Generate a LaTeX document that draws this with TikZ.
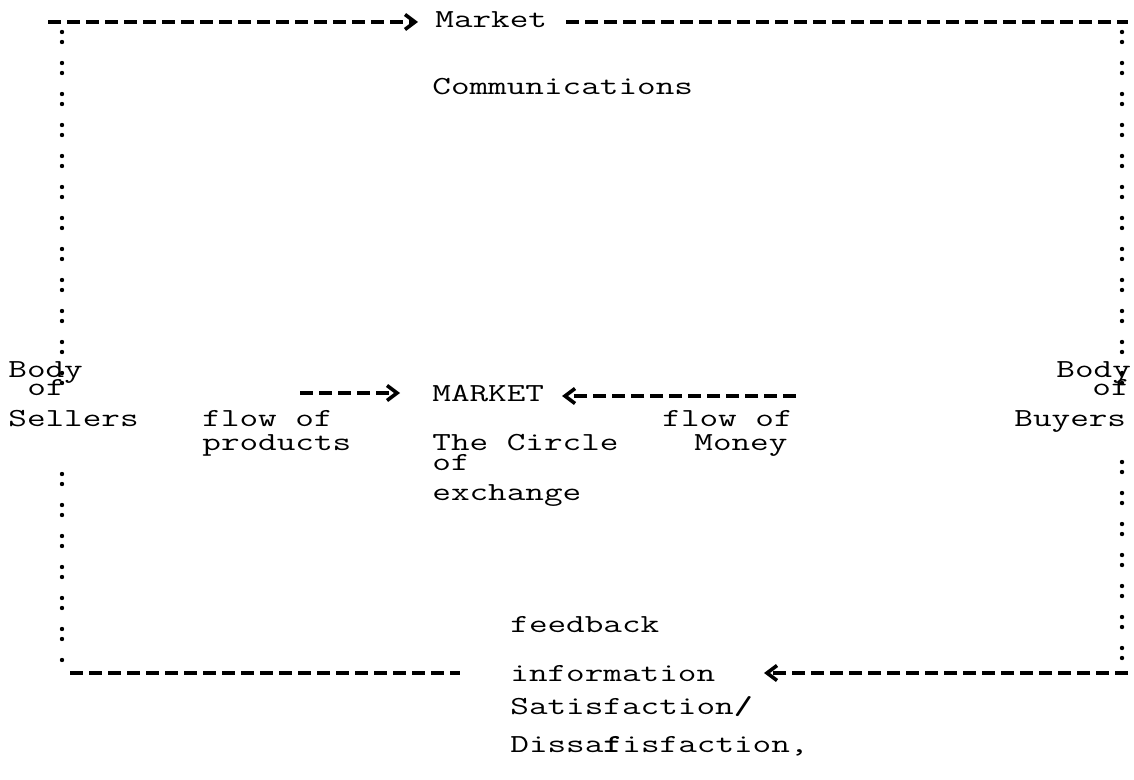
\documentclass[tikz,border=0pt]{standalone}
\usepackage{graphicx}
\usetikzlibrary{arrows.meta}
\newcommand\tw[1]{\scalebox{1.39}[1]{#1}}
\begin{document}
\begin{tikzpicture}[x=0.5pt,y=-0.5pt,
  txt/.style={anchor=base west,inner sep=0pt,font=\ttfamily\fontsize{13}{16}\selectfont},
  dashline/.style={line width=2pt,dash pattern=on 6.5pt off 3pt},
  colonline/.style={line width=2.2pt,line cap=round,dash pattern=on 0pt off 5pt on 0pt off 10.5pt},
  tip/.style={-{Straight Barb[length=5pt,width=7.5pt,line width=1.8pt]}}]
\useasboundingbox (0,0) rectangle (1134,780);
% texts
\node[txt] (market) at (435,28) {\tw{Market}};
\node[txt] (comm) at (432,95) {\tw{Communications}};
\node[txt] (bodyL) at (8,378) {\tw{Body}};
\node[txt] (ofL) at (27,395) {\tw{of}};
\node[txt] (sellers) at (8,426) {\tw{Sellers}};
\node[txt] (bodyR) at (1056,378) {\tw{Body}};
\node[txt] (ofR) at (1092,395) {\tw{of}};
\node[txt] (buyers) at (1014,426) {\tw{Buyers}};
\node[txt] (MARKET) at (432,401) {\tw{MARKET}};
\node[txt] (flowP) at (202,426) {\tw{flow of}};
\node[txt] (prod) at (202,450) {\tw{products}};
\node[txt] (flowM) at (662,426) {\tw{flow of}};
\node[txt] (money) at (694,450) {\tw{Money}};
\node[txt] (circle) at (432,450) {\tw{The Circle}};
\node[txt] (ofC) at (432,470) {\tw{of}};
\node[txt] (exch) at (432,500) {\tw{exchange}};
\node[txt] (feed) at (510,632) {\tw{feedback}};
\node[txt] (info) at (510,681) {\tw{information}};
\node[txt] (sat) at (510,714) {\tw{Satisfaction\textbf{/}}};
\node[txt] (diss) at (510,752) {\tw{Dissa\textbf{f}isfaction,}};
% frame coordinates
\coordinate (tl) at (48,22);
\coordinate (mkin) at (418,22);
\coordinate (mkout) at (566,22);
\coordinate (tr) at (1128,22);
\coordinate (lt) at (62,32);
\coordinate (lb) at (62,392);
\coordinate (rt) at (1122,32);
\coordinate (rb) at (1122,392);
\coordinate (lt2) at (62,474);
\coordinate (lb2) at (62,668);
\coordinate (rt2) at (1122,462);
\coordinate (rb2) at (1122,668);
\coordinate (bl) at (70,673);
\coordinate (blend) at (460,673);
\coordinate (br) at (1128,673);
\coordinate (infoin) at (764,673);
\coordinate (pstart) at (300,393);
\coordinate (pend) at (400,393);
\coordinate (mstart) at (796,396);
\coordinate (mend) at (562,396);
% connectors
\draw[dashline,tip] (tl) -- (mkin);
\draw[dashline] (mkout) -- (tr);
\draw[colonline] (lt) -- (lb);
\draw[colonline] (rt) -- (rb);
\draw[colonline] (lt2) -- (lb2);
\draw[colonline] (rt2) -- (rb2);
\draw[dashline] (bl) -- (blend);
\draw[dashline,tip] (br) -- (infoin);
\draw[dashline,tip] (pstart) -- (pend);
\draw[dashline,tip] (mstart) -- (mend);
\end{tikzpicture}
\end{document}
